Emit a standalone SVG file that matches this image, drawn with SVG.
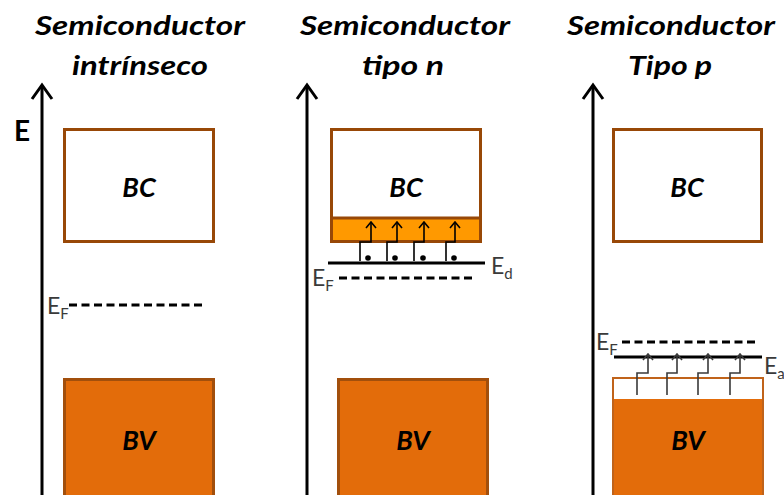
<svg xmlns="http://www.w3.org/2000/svg" width="784" height="495" viewBox="0 0 784 495">
<defs>
<style>
.title{font-family:Lato,"Open Sans","Liberation Sans",sans-serif;font-weight:bold;font-style:italic;font-size:26px;fill:#000;text-anchor:middle}
.band{font-family:Lato,"Open Sans","Liberation Sans",sans-serif;font-weight:bold;font-style:italic;font-size:27px;fill:#000;text-anchor:middle}
.lvl{font-family:Lato,"Open Sans","Liberation Sans",sans-serif;font-size:23px;fill:#3a3a3a}
.sub{font-size:15px}
.axis{stroke:#000;stroke-width:3;fill:none}
.bc{fill:#fff;stroke:#984807;stroke-width:3}
.bv{fill:#E36C0A;stroke:#A24F0C;stroke-width:3}
.fermi{stroke:#000;stroke-width:3;stroke-dasharray:8 4.5;fill:none}
.level{stroke:#000;stroke-width:3;fill:none}
.step{stroke:#000;stroke-width:1.6;fill:none}
.stepg{stroke:#3a3a3a;stroke-width:1.6;fill:none}
</style>
<marker id="ah" markerWidth="12" markerHeight="12" refX="11" refY="6" orient="auto" markerUnits="userSpaceOnUse" viewBox="0 0 12 12">
<path d="M5,1 L11,6 L5,11" fill="none" stroke="context-stroke" stroke-width="1.6"/>
</marker>
</defs>

<g id="panel-intrinsic">
<g id="title1">
<text class="title" x="140" y="35" textLength="210" lengthAdjust="spacingAndGlyphs">Semiconductor</text>
<text class="title" x="140" y="75" textLength="136" lengthAdjust="spacingAndGlyphs">intrínseco</text>
</g>
<g id="axis1">
<line class="axis" x1="42" y1="85" x2="42" y2="495"/>
<path class="axis" d="M32,99 L42,85 L52,99"/>
<text x="14" y="141" font-family="Lato,'Open Sans','Liberation Sans',sans-serif" font-weight="bold" font-size="28" fill="#000">E</text>
</g>
<g id="bc1">
<rect class="bc" x="64.5" y="129.5" width="149" height="112"/>
<text class="band" x="139" y="197">BC</text>
</g>
<g id="ef1">
<line class="fermi" x1="69" y1="305" x2="205" y2="305"/>
<text class="lvl" x="47" y="314">E<tspan class="sub" dy="5">F</tspan></text>
</g>
<g id="bv1">
<rect class="bv" x="64.5" y="379.5" width="149" height="130"/>
<text class="band" x="139" y="450">BV</text>
</g>
</g>

<g id="panel-n">
<g id="title2">
<text class="title" x="405" y="35" textLength="210" lengthAdjust="spacingAndGlyphs">Semiconductor</text>
<text class="title" x="403" y="75" textLength="82" lengthAdjust="spacingAndGlyphs">tipo n</text>
</g>
<g id="axis2">
<line class="axis" x1="307" y1="85" x2="307" y2="495"/>
<path class="axis" d="M297,99 L307,85 L317,99"/>
</g>
<g id="bc2">
<rect class="bc" x="331.5" y="129.5" width="149" height="112"/>
<rect x="331.5" y="218" width="149" height="23.5" fill="#FF9900" stroke="#984807" stroke-width="3"/>
<text class="band" x="406" y="197">BC</text>
</g>
<g id="ed2">
<line class="level" x1="328" y1="263" x2="485" y2="263"/>
<text class="lvl" x="491" y="274">E<tspan class="sub" dy="5">d</tspan></text>
</g>
<g id="ef2">
<line class="fermi" x1="339" y1="278" x2="476" y2="278"/>
<text class="lvl" x="312" y="286">E<tspan class="sub" dy="5">F</tspan></text>
</g>
<g id="bv2">
<rect class="bv" x="338.5" y="379.5" width="149" height="130"/>
<text class="band" x="413" y="450">BV</text>
</g>
</g>

<g id="panel-p">
<g id="title3">
<text class="title" x="671" y="35" textLength="208" lengthAdjust="spacingAndGlyphs">Semiconductor</text>
<text class="title" x="670" y="75" textLength="84" lengthAdjust="spacingAndGlyphs">Tipo p</text>
</g>
<g id="axis3">
<line class="axis" x1="593" y1="85" x2="593" y2="495"/>
<path class="axis" d="M583,99 L593,85 L603,99"/>
</g>
<g id="bc3">
<rect class="bc" x="613.5" y="129.5" width="148" height="112"/>
<text class="band" x="687" y="197">BC</text>
</g>
<g id="ef3">
<line class="fermi" x1="622" y1="342" x2="756" y2="342"/>
<text class="lvl" x="596" y="350">E<tspan class="sub" dy="5">F</tspan></text>
</g>
<g id="ea3">
<line class="level" x1="614" y1="357" x2="762" y2="357"/>
<text class="lvl" x="764" y="374">E<tspan class="sub" dy="5" font-size="13">a</tspan></text>
</g>
<g id="bv3">
<rect x="613" y="378" width="150" height="130" fill="#E36C0A" stroke="#C0631A" stroke-width="2"/>
<rect x="614" y="379" width="148" height="20" fill="#fff"/>
<text class="band" x="688" y="450">BV</text>
</g>
</g>

<g id="connectors">
<g id="donor-transitions">
<path class="step" d="M360,261 V242 H371 V222" marker-end="url(#ah)"/>
<path class="step" d="M387,261 V242 H397 V222" marker-end="url(#ah)"/>
<path class="step" d="M414,261 V242 H424 V222" marker-end="url(#ah)"/>
<path class="step" d="M446,261 V242 H455 V222" marker-end="url(#ah)"/>
<circle cx="368" cy="258" r="2.8" fill="#000"/>
<circle cx="395" cy="258" r="2.8" fill="#000"/>
<circle cx="423" cy="258" r="2.8" fill="#000"/>
<circle cx="454" cy="258" r="2.8" fill="#000"/>
</g>
<g id="acceptor-transitions">
<path class="stepg" d="M637,395 V373 H648 V354" marker-end="url(#ah)"/>
<path class="stepg" d="M667,395 V373 H677 V354" marker-end="url(#ah)"/>
<path class="stepg" d="M698,395 V373 H708 V354" marker-end="url(#ah)"/>
<path class="stepg" d="M730,395 V373 H740 V354" marker-end="url(#ah)"/>
</g>
</g>
</svg>
